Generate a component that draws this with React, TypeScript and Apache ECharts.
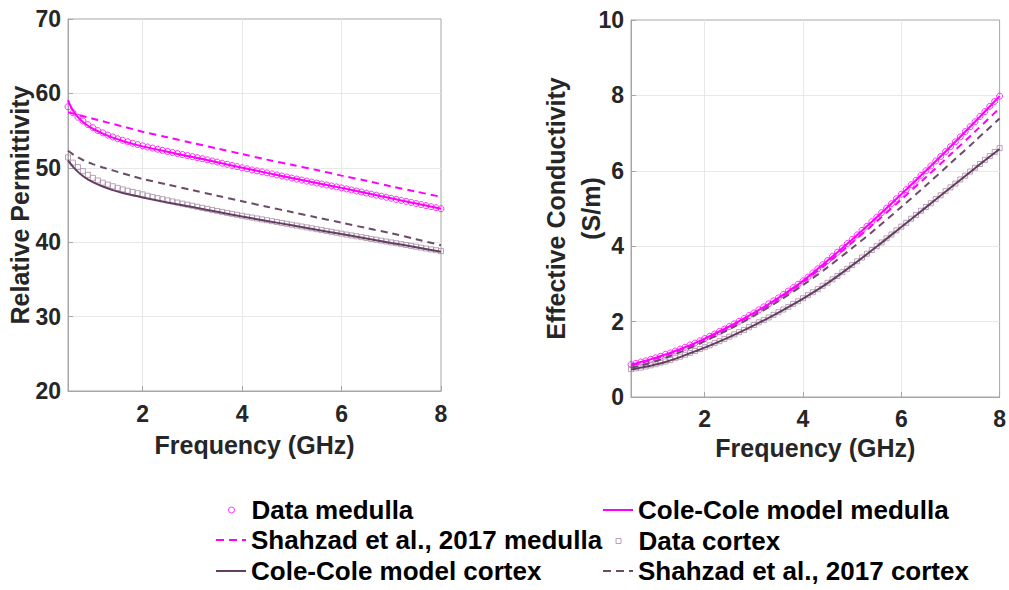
import React, { useEffect, useRef } from "react";
import * as echarts from "echarts";

// ---------- data ----------
const freqData = [
  0.5, 0.6, 0.7, 0.8, 0.9, 1.0, 1.1, 1.2, 1.3, 1.4,
  1.5, 1.6, 1.7, 1.8, 1.9, 2.0, 2.1, 2.2, 2.3, 2.4,
  2.5, 2.6, 2.7, 2.8, 2.9, 3.0, 3.1, 3.2, 3.3, 3.4,
  3.5, 3.6, 3.7, 3.8, 3.9, 4.0, 4.1, 4.2, 4.3, 4.4,
  4.5, 4.6, 4.7, 4.8, 4.9, 5.0, 5.1, 5.2, 5.3, 5.4,
  5.5, 5.6, 5.7, 5.8, 5.9, 6.0, 6.1, 6.2, 6.3, 6.4,
  6.5, 6.6, 6.7, 6.8, 6.9, 7.0, 7.1, 7.2, 7.3, 7.4,
  7.5, 7.6, 7.7, 7.8, 7.9, 8.0,
];

const medullaEpsData = [
  58.2, 57.4, 56.8, 56.3, 55.8, 55.4, 55.0, 54.7, 54.4, 54.15,
  53.9, 53.7, 53.5, 53.3, 53.12, 52.95, 52.8, 52.65, 52.5, 52.35,
  52.2, 52.06, 51.92, 51.78, 51.64, 51.5, 51.36, 51.22, 51.07, 50.92,
  50.77, 50.62, 50.47, 50.32, 50.16, 50.0, 49.86, 49.72, 49.59, 49.46,
  49.32, 49.18, 49.04, 48.9, 48.76, 48.62, 48.48, 48.35, 48.21, 48.08,
  47.95, 47.82, 47.69, 47.56, 47.43, 47.3, 47.16, 47.02, 46.88, 46.74,
  46.6, 46.46, 46.32, 46.18, 46.04, 45.9, 45.76, 45.62, 45.48, 45.34,
  45.2, 45.06, 44.92, 44.78, 44.64, 44.5,
];

const cortexEpsData = [
  51.4, 50.7, 50.1, 49.55, 49.05, 48.65, 48.3, 48.0, 47.75, 47.52,
  47.3, 47.1, 46.92, 46.75, 46.59, 46.43, 46.24, 46.08, 45.93, 45.78,
  45.63, 45.48, 45.33, 45.18, 45.04, 44.9, 44.76, 44.62, 44.48, 44.34,
  44.2, 44.07, 43.94, 43.81, 43.68, 43.55, 43.43, 43.31, 43.19, 43.07,
  42.95, 42.83, 42.71, 42.59, 42.47, 42.35, 42.23, 42.11, 41.99, 41.87,
  41.75, 41.63, 41.51, 41.39, 41.27, 41.15, 41.03, 40.91, 40.8, 40.68,
  40.56, 40.44, 40.33, 40.21, 40.09, 39.97, 39.86, 39.74, 39.62, 39.5,
  39.39, 39.27, 39.15, 39.03, 38.92, 38.8,
];

const medullaSigData = [
  0.86, 0.89, 0.93, 0.96, 1.0, 1.04, 1.08, 1.13, 1.17, 1.22,
  1.27, 1.32, 1.38, 1.43, 1.49, 1.55, 1.61, 1.67, 1.74, 1.8,
  1.87, 1.94, 2.01, 2.08, 2.16, 2.23, 2.31, 2.39, 2.47, 2.55,
  2.63, 2.72, 2.81, 2.9, 2.99, 3.08, 3.18, 3.29, 3.4, 3.51,
  3.62, 3.73, 3.84, 3.95, 4.07, 4.18, 4.3, 4.42, 4.53, 4.65,
  4.77, 4.89, 5.01, 5.13, 5.26, 5.38, 5.5, 5.63, 5.75, 5.88,
  6.0, 6.13, 6.26, 6.38, 6.51, 6.64, 6.77, 6.9, 7.04, 7.17,
  7.3, 7.44, 7.57, 7.71, 7.84, 7.98,
];

const cortexSigData = [
  0.74, 0.76, 0.78, 0.81, 0.84, 0.87, 0.91, 0.94, 0.98, 1.03,
  1.07, 1.12, 1.17, 1.22, 1.27, 1.32, 1.37, 1.43, 1.48, 1.54,
  1.6, 1.66, 1.72, 1.78, 1.85, 1.91, 1.98, 2.04, 2.11, 2.18,
  2.25, 2.32, 2.39, 2.47, 2.54, 2.62, 2.7, 2.78, 2.86, 2.95,
  3.03, 3.12, 3.21, 3.31, 3.4, 3.5, 3.6, 3.7, 3.8, 3.9,
  4.0, 4.1, 4.21, 4.31, 4.42, 4.52, 4.62, 4.73, 4.83, 4.94,
  5.04, 5.14, 5.25, 5.35, 5.46, 5.56, 5.66, 5.77, 5.87, 5.98,
  6.08, 6.18, 6.29, 6.39, 6.5, 6.6,
];

const lineFreq = [
  0.5, 0.55, 0.6, 0.7, 0.8, 0.9, 1.0, 1.2, 1.4, 1.6, 1.8, 2.0,
  2.5, 3.0, 3.5, 4.0, 4.5, 5.0, 5.5, 6.0, 6.5, 7.0, 7.5, 8.0,
];

const medullaEpsModel = [
  59.1, 58.3, 57.7, 56.8, 56.15, 55.65, 55.25, 54.6, 54.05, 53.6, 53.22, 52.88,
  52.15, 51.45, 50.75, 50.02, 49.32, 48.63, 47.96, 47.3, 46.6, 45.9, 45.2, 44.5,
];
const medullaEpsShahzad = [
  57.45, 57.38, 57.3, 57.12, 56.95, 56.77, 56.6, 56.25, 55.9, 55.55, 55.2, 54.85,
  54.1, 53.35, 52.6, 51.85, 51.1, 50.4, 49.7, 48.95, 48.25, 47.5, 46.8, 46.1,
];
const cortexEpsModel = [
  51.0, 50.55, 50.15, 49.45, 48.9, 48.45, 48.08, 47.48, 47.0, 46.62, 46.3, 46.02,
  45.35, 44.72, 44.08, 43.45, 42.86, 42.27, 41.68, 41.09, 40.5, 39.9, 39.32, 38.73,
];
const cortexEpsShahzad = [
  52.3, 52.05, 51.8, 51.4, 51.05, 50.75, 50.5, 50.05, 49.65, 49.25, 48.87, 48.5,
  47.75, 47.0, 46.25, 45.5, 44.77, 44.05, 43.33, 42.62, 41.9, 41.2, 40.4, 39.6,
];

const medullaSigModel = [
  0.87, 0.88, 0.89, 0.93, 0.96, 1.0, 1.04, 1.13, 1.22, 1.32, 1.43, 1.55,
  1.87, 2.23, 2.63, 3.08, 3.62, 4.18, 4.77, 5.38, 6.0, 6.64, 7.3, 7.98,
];
const medullaSigShahzad = [
  0.84, 0.85, 0.87, 0.9, 0.94, 0.98, 1.02, 1.11, 1.2, 1.3, 1.41, 1.53,
  1.85, 2.21, 2.6, 3.05, 3.56, 4.1, 4.66, 5.24, 5.83, 6.43, 7.04, 7.66,
];
const cortexSigModel = [
  0.73, 0.74, 0.75, 0.78, 0.8, 0.83, 0.86, 0.93, 1.01, 1.11, 1.21, 1.31,
  1.59, 1.9, 2.24, 2.61, 3.02, 3.49, 3.99, 4.51, 5.03, 5.55, 6.07, 6.58,
];
const cortexSigShahzad = [
  0.78, 0.79, 0.8, 0.83, 0.87, 0.91, 0.95, 1.04, 1.14, 1.24, 1.36, 1.48,
  1.8, 2.15, 2.54, 2.97, 3.44, 3.95, 4.48, 5.04, 5.61, 6.2, 6.79, 7.39,
];

const seriesNames = [
  "Data medulla",
  "Cole-Cole model medulla",
  "Shahzad et al., 2017 medulla",
  "Data cortex",
  "Cole-Cole model cortex",
  "Shahzad et al., 2017 cortex",
];
const xAxisTitle = "Frequency (GHz)";
const yAxisTitles = ["Relative Permittivity", "Effective Conductivity\n(S/m)"];

// ---------- styles ----------
const MAG = "#ff00ff";
const CORTEX_LINE = "#633e61";
const CORTEX_DASH = "#6c4b69";
const CORTEX_MARK = "#a88ca5";
const FONT = "'Liberation Sans', Arial, Helvetica, sans-serif";
const TXT = "#262626";
const BORDER = "#a6a6a6";

const ICON_CIRCLE = "path://M0,3a3,3 0 1,0 6,0a3,3 0 1,0 -6,0z";
const ICON_SQUARE = "path://M0,0h5v5h-5z";
const ICON_SOLID = "path://M0,0h30v2h-30z";
const ICON_DASH = "path://M0,0h8v2h-8zM13,0h8v2h-8zM26,0h4v2h-4z";

const pairs = (xs: number[], ys: number[]) => xs.map((x, i) => [x, ys[i]]);

function buildSeries(gi: number, d: any) {
  return [
    {
      name: seriesNames[0], type: "scatter", xAxisIndex: gi, yAxisIndex: gi,
      symbol: "circle", symbolSize: 6,
      itemStyle: { color: "rgba(255,255,255,0)", borderColor: MAG, borderWidth: 1 },
      data: pairs(freqData, d.medData), z: 2,
    },
    {
      name: seriesNames[3], type: "scatter", xAxisIndex: gi, yAxisIndex: gi,
      symbol: "rect", symbolSize: 5,
      itemStyle: { color: "rgba(255,255,255,0)", borderColor: CORTEX_MARK, borderWidth: 1 },
      data: pairs(freqData, d.corData), z: 2,
    },
    {
      name: seriesNames[4], type: "line", xAxisIndex: gi, yAxisIndex: gi,
      symbol: "none", smooth: 0.3,
      lineStyle: { color: CORTEX_LINE, width: 2 }, itemStyle: { color: CORTEX_LINE },
      data: pairs(lineFreq, d.corModel), z: 3,
    },
    {
      name: seriesNames[5], type: "line", xAxisIndex: gi, yAxisIndex: gi,
      symbol: "none", smooth: 0.3,
      lineStyle: { color: CORTEX_DASH, width: 2, type: [7, 5] }, itemStyle: { color: CORTEX_DASH },
      data: pairs(lineFreq, d.corShah), z: 3,
    },
    {
      name: seriesNames[2], type: "line", xAxisIndex: gi, yAxisIndex: gi,
      symbol: "none", smooth: 0.3,
      lineStyle: { color: MAG, width: 2, type: [7, 5] }, itemStyle: { color: MAG },
      data: pairs(lineFreq, d.medShah), z: 3,
    },
    {
      name: seriesNames[1], type: "line", xAxisIndex: gi, yAxisIndex: gi,
      symbol: "none", smooth: 0.3,
      lineStyle: { color: MAG, width: 2 }, itemStyle: { color: MAG },
      data: pairs(lineFreq, d.medModel), z: 3,
    },
  ];
}

function xAxisCfg(gi: number, labelMargin: number, nameGap: number) {
  return {
    gridIndex: gi, type: "value", min: 0.5, max: 8, splitNumber: 4,
    axisLine: { show: true, lineStyle: { color: BORDER, width: 1 } },
    axisTick: { show: true, inside: true, length: 5, lineStyle: { color: BORDER } },
    axisLabel: {
      formatter: (v: number) => (Math.abs(v % 2) < 1e-9 ? String(v) : ""),
      fontSize: 23, fontWeight: "bold", color: TXT, fontFamily: FONT, margin: labelMargin,
    },
    splitLine: { show: true, showMinLine: false, showMaxLine: false, lineStyle: { color: "#e8e8e8", width: 1 } },
    name: xAxisTitle, nameLocation: "middle", nameGap, nameMoveOverlap: false,
    nameTextStyle: { fontSize: 25, fontWeight: "bold", color: TXT, fontFamily: FONT },
  };
}

function yAxisCfg(gi: number, min: number, max: number, interval: number, name: string, nameGap: number, lineHeight: number) {
  return {
    gridIndex: gi, type: "value", min, max, interval,
    axisLine: { show: true, lineStyle: { color: BORDER, width: 1 } },
    axisTick: { show: true, inside: true, length: 5, lineStyle: { color: BORDER } },
    axisLabel: { fontSize: 23, fontWeight: "bold", color: TXT, fontFamily: FONT, margin: 7 },
    splitLine: { show: true, showMinLine: false, showMaxLine: false, lineStyle: { color: "#e8e8e8", width: 1 } },
    name, nameLocation: "middle", nameGap, nameMoveOverlap: false,
    nameTextStyle: { fontSize: 25, fontWeight: "bold", color: TXT, fontFamily: FONT, lineHeight },
  };
}

function legendCfg(name: string, icon: string, left: number, cy: number, h: number, bw: number) {
  return {
    data: [{ name, icon }], left, top: cy - 13, padding: 0, itemWidth: 30, itemHeight: h,
    itemStyle: { borderWidth: bw },
    textStyle: { fontSize: 26, fontWeight: "bold", color: "#000", fontFamily: FONT },
  };
}

export default function App() {
  const ref = useRef<HTMLDivElement>(null);
  useEffect(() => {
    if (!ref.current) return;
    const chart = echarts.init(ref.current, undefined, { renderer: "svg" });
    const option = {
      animation: false,
      backgroundColor: "#ffffff",
      grid: [
        { left: 68, top: 19, width: 373, height: 372, show: true, borderColor: BORDER, borderWidth: 1, backgroundColor: "rgba(0,0,0,0)" },
        { left: 631, top: 20, width: 374, height: 377, show: true, borderColor: BORDER, borderWidth: 1, backgroundColor: "rgba(0,0,0,0)" },
      ],
      xAxis: [xAxisCfg(0, 11, 41), xAxisCfg(1, 10, 38)],
      yAxis: [
        yAxisCfg(0, 20, 70, 10, yAxisTitles[0], 36, 25),
        yAxisCfg(1, 0, 10, 2, yAxisTitles[1], 23, 35),
      ],
      legend: [
        legendCfg(seriesNames[0], ICON_CIRCLE, 228, 510, 6, 1),
        legendCfg(seriesNames[1], ICON_SOLID, 603, 510, 2, 0),
        legendCfg(seriesNames[2], ICON_DASH, 216, 540, 2, 0),
        legendCfg(seriesNames[3], ICON_SQUARE, 615.5, 541, 5, 1),
        legendCfg(seriesNames[4], ICON_SOLID, 216, 571, 2, 0),
        legendCfg(seriesNames[5], ICON_DASH, 603, 571, 2, 0),
      ],
      series: [
        ...buildSeries(0, {
          medData: medullaEpsData, corData: cortexEpsData,
          medModel: medullaEpsModel, medShah: medullaEpsShahzad,
          corModel: cortexEpsModel, corShah: cortexEpsShahzad,
        }),
        ...buildSeries(1, {
          medData: medullaSigData, corData: cortexSigData,
          medModel: medullaSigModel, medShah: medullaSigShahzad,
          corModel: cortexSigModel, corShah: cortexSigShahzad,
        }),
      ],
    };
    chart.setOption(option as any);
    return () => chart.dispose();
  }, []);
  return (
    <div
      ref={ref}
      style={{ position: "fixed", left: 0, top: 0, width: 1009, height: 590, background: "#fff" }}
    />
  );
}
